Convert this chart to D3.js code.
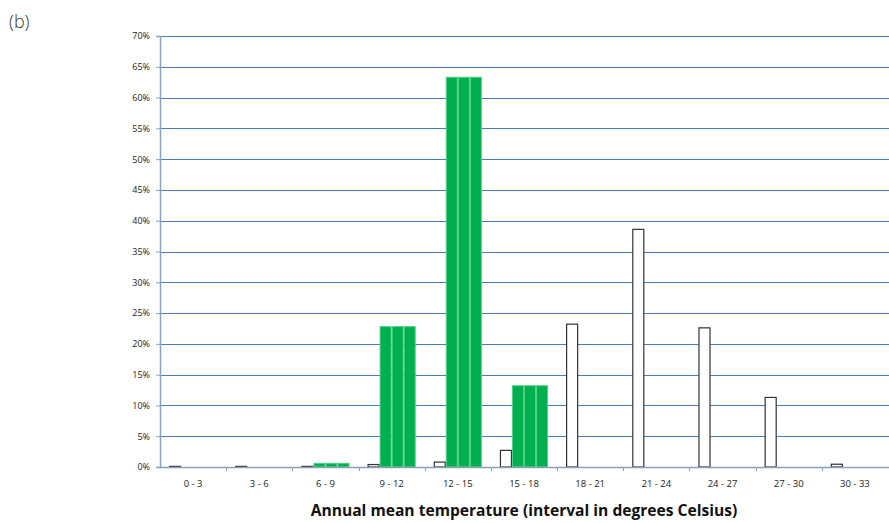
<!DOCTYPE html>
<html><head><meta charset="utf-8">
<script src="https://cdn.jsdelivr.net/npm/d3@7"></script>
<style>body{margin:0;background:#fff;}svg{display:block;}</style>
</head><body>
<svg id="chart" width="889" height="523"></svg>
<script>
const categories = ["0 - 3","3 - 6","6 - 9","9 - 12","12 - 15","15 - 18","18 - 21","21 - 24","24 - 27","27 - 30","30 - 33"];
const seriesWhite = [0.1,0.1,0.1,0.4,0.8,2.7,23.2,38.6,22.6,11.3,0.45];
const seriesGreenA = [0,0,0.6,22.8,63.3,13.2,0,0,0,0,0];
const seriesGreenB = [0,0,0.6,22.8,63.3,13.2,0,0,0,0,0];
const seriesGreenC = [0,0,0.6,22.8,63.3,13.2,0,0,0,0,0];
const yTicks = [0,5,10,15,20,25,30,35,40,45,50,55,60,65,70];
const xTitle = "Annual mean temperature (interval in degrees Celsius)";
const panelLabel = "(b)";

(function(){
const svg = d3.select("#chart");
const mL = 160, mR = 888, mT = 36, mB = 467;
const x = d3.scaleBand().domain(categories).range([mL, mR]).paddingInner(0).paddingOuter(0);
const y = d3.scaleLinear().domain([0,70]).range([mB, mT]);

const series = [
  {vals: seriesWhite, fill: "#ffffff", stroke: "#333333"},
  {vals: seriesGreenA, fill: "#00B050", stroke: "#4fcf83"},
  {vals: seriesGreenB, fill: "#00B050", stroke: "#4fcf83"},
  {vals: seriesGreenC, fill: "#00B050", stroke: "#4fcf83"}
];
const inner = d3.scaleBand().domain(d3.range(series.length)).range([0, x.bandwidth()]).paddingInner(0).paddingOuter(0.75);

// gridlines
svg.append("g").selectAll("line").data(yTicks.filter(d=>d>0)).join("line")
  .attr("x1", mL).attr("x2", 889).attr("y1", d=>Math.round(y(d))+0.5).attr("y2", d=>Math.round(y(d))+0.5)
  .attr("stroke", "#4A7EBB").attr("stroke-width", 1.2);

// bars
series.forEach((s, si) => {
  svg.append("g").selectAll("rect").data(categories).join("rect")
    .attr("x", (c)=> x(c) + inner(si) + 0.5)
    .attr("width", inner.bandwidth() - 1)
    .attr("y", (c,i)=> y(s.vals[i]))
    .attr("height", (c,i)=> Math.max(0, mB - y(s.vals[i])))
    .attr("fill", s.fill)
    .attr("stroke", (c,i)=> s.vals[i] > 0 ? s.stroke : "none")
    .attr("stroke-width", si === 0 ? 1.2 : 1)
    .style("display", (c,i)=> s.vals[i] > 0 ? null : "none");
});

// y axis
const yAxis = d3.axisLeft(y).tickValues(yTicks).tickFormat(d=>d+"%").tickSize(4).tickPadding(6);
const gy = svg.append("g").attr("transform", `translate(${mL},0)`).call(yAxis);
gy.select(".domain").attr("stroke", "#8BA0BA").attr("stroke-width", 1.5);
gy.selectAll(".tick line").attr("stroke", "#8BA0BA");
gy.selectAll(".tick text").attr("font-family", "Open Sans, sans-serif").attr("font-size", 9).attr("fill", "#222");

// x axis
const gx = svg.append("g").attr("transform", `translate(0,${mB})`);
gx.append("line").attr("x1", mL).attr("x2", 889).attr("y1", 0.5).attr("y2", 0.5).attr("stroke", "#8BA0BA").attr("stroke-width", 1.5);
gx.selectAll("line.tk").data(categories.slice(1)).join("line").attr("class","tk")
  .attr("x1", c=>Math.round(x(c))+0.5).attr("x2", c=>Math.round(x(c))+0.5).attr("y1", 0).attr("y2", 4)
  .attr("stroke", "#8BA0BA");
gx.selectAll("text").data(categories).join("text")
  .attr("x", c=>x(c)+x.bandwidth()/2).attr("y", 20).attr("text-anchor", "middle")
  .attr("font-family", "Open Sans, sans-serif").attr("font-size", 9.5).attr("fill", "#222").text(c=>c);

// title
svg.append("text").attr("x", (mL+mR)/2).attr("y", 516).attr("text-anchor", "middle")
  .attr("font-family", "Open Sans, sans-serif").attr("font-weight", "bold").attr("font-size", 15.6).attr("fill", "#111")
  .text(xTitle);

svg.append("text").attr("x", 9).attr("y", 28).attr("font-family", "Open Sans, sans-serif").attr("font-weight", 300)
  .attr("font-size", 18).attr("fill", "#333").text(panelLabel);
})();
</script>
</body></html>
